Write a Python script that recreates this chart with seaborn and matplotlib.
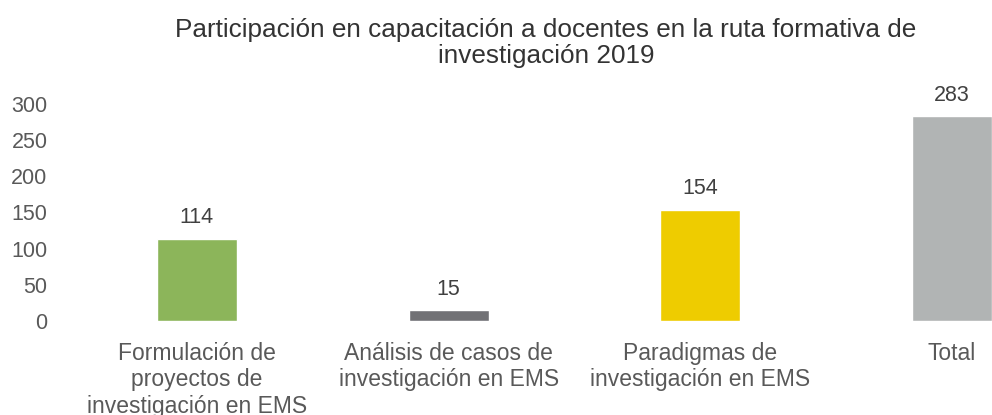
import matplotlib
matplotlib.use("Agg")
import matplotlib.pyplot as plt
import seaborn as sns
import pandas as pd

categories = ["Formulación de\nproyectos de\ninvestigación en EMS",
              "Análisis de casos de\ninvestigación en EMS",
              "Paradigmas de\ninvestigación en EMS",
              "Total"]
values = [114, 15, 154, 283]
colors = ["#8CB55A", "#717175", "#EECC00", "#B1B4B4"]
yticks = [0, 50, 100, 150, 200, 250, 300]
title = "Participación en capacitación a docentes en la ruta formativa de\ninvestigación 2019"

sns.set_theme(style="white")
plt.rcParams['font.family'] = ['Liberation Sans', 'DejaVu Sans']

df = pd.DataFrame({"cat": categories, "val": values})

fig = plt.figure(figsize=(9.92, 4.15), dpi=100)
W, H = 992, 415
left_px, right_px = 71, 992
bottom_px, top_px = 321, 104
ax = fig.add_axes([left_px / W, (H - bottom_px) / H, (right_px - left_px) / W, (bottom_px - top_px) / H])

sns.barplot(data=df, x="cat", y="val", hue="cat", palette=colors, legend=False,
            width=0.318, saturation=1, ax=ax)

ax.set_xlim(-0.5, 3 + (992 - 952) / 252)
ax.set_ylim(0, 300)
ax.set_yticks(yticks)
ax.set_xlabel("")
ax.set_ylabel("")
for s in ax.spines.values():
    s.set_visible(False)
ax.tick_params(axis="y", length=0, pad=17, labelsize=15.5, labelcolor="#595959")
ax.tick_params(axis="x", length=0, pad=15, labelsize=16.5, labelcolor="#595959")
for lbl in ax.get_xticklabels():
    lbl.set_linespacing(1.2)

for i, v in enumerate(values):
    ax.text(i, v + 14, str(v), ha="center", va="bottom", fontsize=15.5,
            color="#404040", clip_on=False)

fig.text(546 / W, 1 - 43 / H, title, ha="center", va="center", fontsize=18.8,
         color="#333333", linespacing=1.1)

fig.savefig("out.png", dpi=100)
